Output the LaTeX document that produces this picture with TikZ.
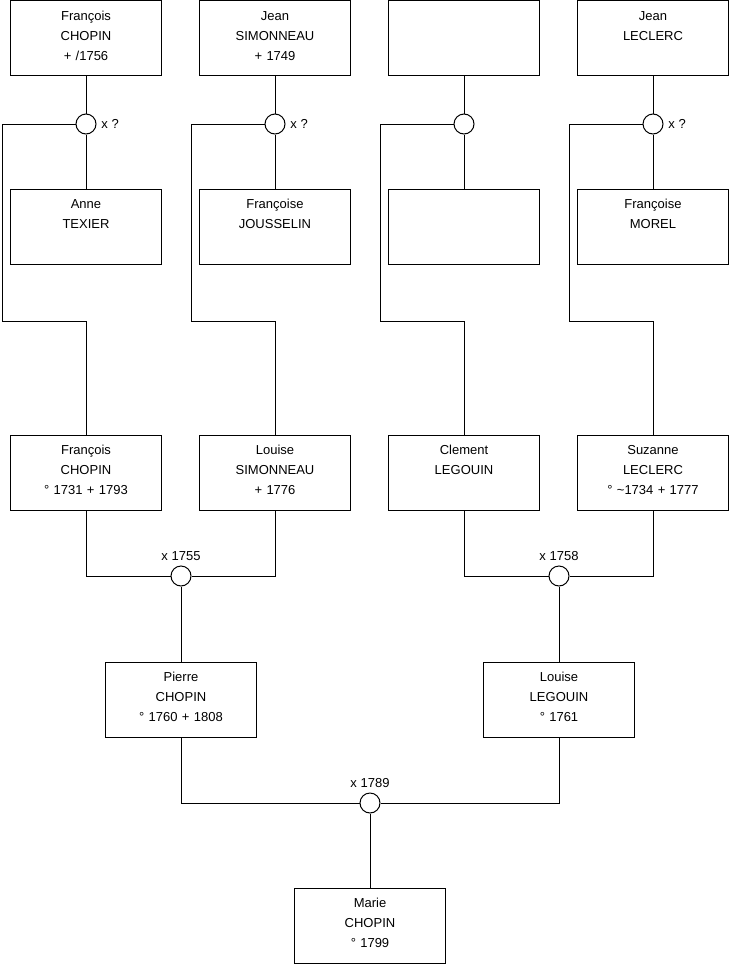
\documentclass[tikz,border=0pt]{standalone}
\usepackage{fontspec}
\setmainfont{Liberation Sans}
\usetikzlibrary{positioning}
\tikzset{
  person/.style={draw,rectangle,anchor=north,inner sep=0pt,outer sep=0pt,
    minimum width=113.25pt,minimum height=56.25pt,text width=113.25pt,
    align=center,text height=14.75pt,text depth=41.5pt,
    font=\fontsize{9.75}{15}\selectfont},
  union/.style={draw,circle,fill=white,inner sep=0pt,minimum size=15pt,
    label distance=1pt},
  tag/.style={font=\fontsize{9.75}{12}\selectfont}
}
\begin{document}
\begin{tikzpicture}[x=0.75pt,y=-0.75pt,line width=0.75pt]
  \useasboundingbox (0,0) rectangle (740,975);

  % grandparents of the parents
  \node[person] (f1) at (86,0.5)  {François\\CHOPIN\\+ /1756};
  \node[person] (f2) at (275,0.5) {Jean\\SIMONNEAU\\+ 1749};
  \node[person] (f3) at (464,0.5) {};
  \node[person] (f4) at (653,0.5) {Jean\\LECLERC};

  \node[union,label={[tag]right:x ?}] (m1) at (86,124) {};
  \node[union,label={[tag]right:x ?}] (m2) at (275,124) {};
  \node[union] (m3) at (464,124) {};
  \node[union,label={[tag]right:x ?}] (m4) at (653,124) {};

  \node[person] (w1) at (86,189)  {Anne\\TEXIER};
  \node[person] (w2) at (275,189) {Françoise\\JOUSSELIN};
  \node[person] (w3) at (464,189) {};
  \node[person] (w4) at (653,189) {Françoise\\MOREL};

  % parents
  \node[person] (c1) at (86,435)  {François\\CHOPIN\\° 1731 + 1793};
  \node[person] (c2) at (275,435) {Louise\\SIMONNEAU\\+ 1776};
  \node[person] (c3) at (464,435) {Clement\\LEGOUIN};
  \node[person] (c4) at (653,435) {Suzanne\\LECLERC\\° \textasciitilde1734 + 1777};

  \foreach \i/\x in {1/86,2/275,3/464,4/653}{
    \draw (f\i) -- (m\i);
    \draw (m\i) -- (w\i);
    \draw (m\i.west) -| (\x-84,321) -| (c\i.north);
  }

  \node[union,label={[tag]above:x 1755}] (p1) at (181,576) {};
  \node[union,label={[tag]above:x 1758}] (p2) at (559,576) {};
  \draw (c1.south) |- (p1.west);
  \draw (c2.south) |- (p1.east);
  \draw (c3.south) |- (p2.west);
  \draw (c4.south) |- (p2.east);

  \node[person] (g1) at (181,662) {Pierre\\CHOPIN\\° 1760 + 1808};
  \node[person] (g2) at (559,662) {Louise\\LEGOUIN\\° 1761};
  \draw (p1) -- (g1);
  \draw (p2) -- (g2);

  % child
  \node[union,label={[tag]above:x 1789}] (p3) at (370,803) {};
  \draw (g1.south) |- (p3.west);
  \draw (g2.south) |- (p3.east);
  \node[person] (k1) at (370,888) {Marie\\CHOPIN\\° 1799};
  \draw (p3) -- (k1);
\end{tikzpicture}
\end{document}
